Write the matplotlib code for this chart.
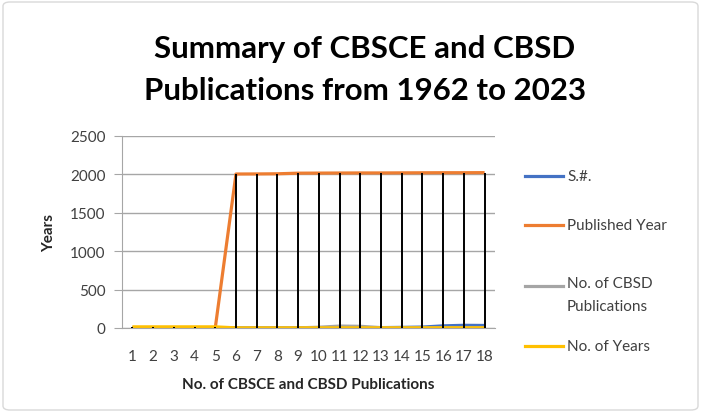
import matplotlib
matplotlib.use("Agg")
import matplotlib.pyplot as plt
from matplotlib.lines import Line2D
from matplotlib.patches import FancyBboxPatch
import numpy as np

plt.rcParams['font.family'] = ['Lato', 'DejaVu Sans']

categories = [str(i) for i in range(1, 19)]
sn = [3, 3, 3, 3, 3, 2, 2, 2, 2, 2, 3, 3, 5, 8, 12, 28, 35, 33]
published_year = [0, 0, 0, 0, 0, 2005, 2006, 2008, 2016, 2017, 2018, 2019, 2019, 2020, 2021, 2022, 2022, 2023]
cbsd_pubs = [0, 0, 0, 0, 0, 0, 0, 0, 2, 10, 25, 22, 5, 2, 2, 2, 2, 2]
num_years = [15, 15, 15, 15, 15, 2, 2, 2, 2, 2, 2, 2, 2, 2, 2, 3, 3, 3]

series = [("S.#.", sn, "#4472C4"),
          ("Published Year", published_year, "#ED7D31"),
          ("No. of CBSD\nPublications", cbsd_pubs, "#A5A5A5"),
          ("No. of Years", num_years, "#FFC000")]

W, H = 701, 414
fig = plt.figure(figsize=(W / 100, H / 100), dpi=100)
ax = fig.add_axes([122 / W, 1 - 329 / H, (495 - 122) / W, (329 - 137) / H])

x = np.arange(1, len(categories) + 1)
data = np.array([s[1] for s in series])
ax.vlines(x, data.min(axis=0), data.max(axis=0), colors="black", lw=1.4, zorder=3)
for name, vals, col in series:
    ax.plot(x, vals, color=col, lw=2.3, zorder=2, solid_capstyle="butt")

ax.set_xlim(0.5, len(categories) + 0.5)
ax.set_ylim(0, 2500)
ax.set_yticks([0, 500, 1000, 1500, 2000, 2500])
ax.set_xticks(x)
ax.set_xticklabels(categories)
ax.yaxis.grid(True, color="#A6A6A6", lw=1)
ax.set_axisbelow(True)
for sp in ["top", "right"]:
    ax.spines[sp].set_visible(False)
ax.spines["left"].set_color("#A6A6A6")
ax.spines["bottom"].set_color("#A6A6A6")
ax.tick_params(axis="y", length=6, color="#A6A6A6", labelsize=11, labelcolor="#404040", pad=6)
ax.tick_params(axis="x", length=0, labelsize=11, labelcolor="#404040", pad=15)

ax.set_xlabel("No. of CBSCE and CBSD Publications", fontsize=11, fontweight="bold", color="#262626", labelpad=10)
ax.set_ylabel("Years", fontsize=11, fontweight="bold", color="#262626", labelpad=10)

fig.text(365 / W, 1 - 70 / H, "Summary of CBSCE and CBSD\nPublications from 1962 to 2023",
         ha="center", va="center", fontsize=22.5, fontweight="bold", linespacing=1.6, color="black")

# legend
leg_y = [177, 226, 287, 347]
for (name, vals, col), yy in zip(series, leg_y):
    fy = 1 - yy / H
    fig.add_artist(Line2D([525 / W, 563 / W], [fy, fy], color=col, lw=2.3, transform=fig.transFigure))
    if "\n" in name:
        fig.text(567 / W, fy + 10 / H, name, ha="left", va="top", fontsize=11, color="#404040",
                 linespacing=1.85)
    else:
        fig.text(567 / W, fy, name, ha="left", va="center", fontsize=11, color="#404040")

fig.add_artist(FancyBboxPatch((3 / W, 3 / H), (W - 6) / W, (H - 6) / H,
                              boxstyle="round,pad=0,rounding_size=0.01",
                              transform=fig.transFigure, fill=False, edgecolor="#D9D9D9", lw=1))

fig.savefig("out.png", dpi=100)
